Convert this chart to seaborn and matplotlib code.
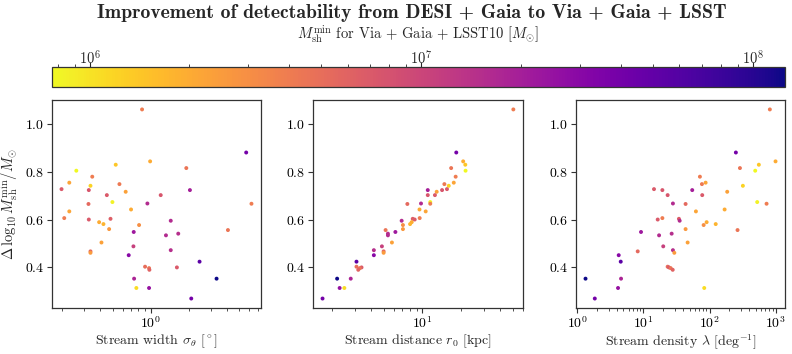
import numpy as np
import pandas as pd
import matplotlib
matplotlib.use("Agg")
import matplotlib.pyplot as plt
import seaborn as sns
from matplotlib.colors import LogNorm
from matplotlib.cm import ScalarMappable

# Stream properties (one entry per stream)
delta_logm = [1.06, 0.88, 0.843, 0.829, 0.804, 0.815, 0.779, 0.754, 0.748, 0.741,
              0.727, 0.723, 0.723, 0.716, 0.702, 0.702, 0.673, 0.667, 0.665, 0.666,
              0.634, 0.642, 0.606, 0.600, 0.603, 0.595, 0.589, 0.581, 0.577, 0.560,
              0.556, 0.548, 0.541, 0.534, 0.504, 0.488, 0.472, 0.467, 0.461, 0.451,
              0.424, 0.403, 0.400, 0.397, 0.390, 0.353, 0.353, 0.314, 0.314, 0.270]
width = [0.855, 5.67, 0.99, 0.53, 0.259, 1.91, 0.346, 0.228, 0.567, 0.335,
         0.198, 0.325, 2.04, 0.635, 0.451, 1.20, 0.499, 0.942, 0.323, 6.24,
         0.228, 0.70, 0.208, 0.325, 0.482, 1.44, 0.392, 0.424, 0.81, 0.47,
         4.07, 0.735, 1.65, 1.32, 0.409, 0.731, 1.44, 0.335, 0.335, 0.671,
         2.43, 0.903, 1.61, 0.971, 0.977, 3.31, 0.74, 0.771, 0.971, 2.09]
distance = [50.7, 18.3, 20.7, 21.5, 21.6, 16.7, 18.1, 17.5, 14.8, 16.0,
            15.5, 14.2, 11.0, 12.9, 12.5, 11.0, 11.5, 9.75, 7.64, 11.5,
            10.6, 9.49, 9.52, 8.71, 8.41, 6.90, 8.26, 8.02, 7.06, 7.06,
            5.18, 6.17, 5.40, 5.40, 5.80, 4.85, 4.20, 5.00, 5.00, 4.20,
            3.08, 3.08, 3.37, 3.27, 3.18, 2.18, 2.78, 2.48, 2.28, 1.68]
density = [815, 250, 993, 556, 490, 288, 71.6, 87.3, 76.8, 319,
           14.5, 19.4, 54.8, 185, 77.6, 23.3, 525, 28.0, 43.5, 727,
           62.3, 169, 19.4, 16.5, 34.5, 35.4, 90.4, 124, 81.5, 43.5,
           265, 9.23, 26.8, 17.3, 46.7, 20.0, 28.0, 8.23, 29.4, 4.25,
           4.56, 23.3, 24.4, 25.9, 27.8, 1.34, 4.61, 83.2, 4.15, 1.85]
m_min = [4.0e6, 4.0e7, 2.0e6, 1.4e6, 7.7e5, 4.5e6, 4.0e6, 2.2e6, 4.2e6, 1.2e6,
         7.0e6, 7.5e6, 2.0e7, 2.3e6, 7.0e6, 7.5e6, 8.5e5, 1.6e7, 5.5e6, 4.0e6,
         2.2e6, 2.0e6, 4.0e6, 7.0e6, 6.5e6, 1.6e7, 2.0e6, 1.8e6, 3.0e6, 2.6e6,
         4.5e6, 2.2e7, 1.5e7, 1.6e7, 2.3e6, 1.1e7, 1.5e7, 5.5e6, 2.5e6, 3.0e7,
         5.5e7, 5.0e6, 7.0e6, 4.5e6, 6.0e6, 1.25e8, 1.8e7, 1.1e6, 2.5e7, 4.0e7]

df = pd.DataFrame({"width": width, "distance": distance, "density": density,
                   "m_min": m_min, "delta": delta_logm})

sns.set_style("ticks")
plt.rcParams["font.family"] = "cmr10"
plt.rcParams["mathtext.fontset"] = "cm"
plt.rcParams["axes.formatter.use_mathtext"] = True
plt.rcParams["axes.edgecolor"] = "#333333"
plt.rcParams["axes.linewidth"] = 0.9

norm = LogNorm(vmin=df["m_min"].min(), vmax=df["m_min"].max())

fig = plt.figure(figsize=(7.92, 3.54), dpi=100)
axes = [fig.add_axes([0.0657, 0.130, 0.2638, 0.5876]),
        fig.add_axes([0.3952, 0.130, 0.2650, 0.5876]),
        fig.add_axes([0.7273, 0.130, 0.2639, 0.5876])]
cax = fig.add_axes([0.0657, 0.7542, 0.9255, 0.0565])

xcols = ["width", "distance", "density"]
xlabels = [r"Stream width $\sigma_\theta$ [$^\circ$]",
           r"Stream distance $r_0$ [kpc]",
           r"Stream density $\lambda$ [deg$^{-1}$]"]

for ax, col, lab in zip(axes, xcols, xlabels):
    sns.scatterplot(data=df, x=col, y="delta", hue="m_min", hue_norm=norm,
                    palette="plasma_r", s=8, linewidth=0, legend=False, ax=ax)
    ax.set_xscale("log")
    ax.set_xlabel(lab, fontsize=10, labelpad=1)
    ax.set_ylabel("")
    ax.set_yticks([0.4, 0.6, 0.8, 1.0])
    ax.tick_params(labelsize=10, colors="#333333", labelcolor="black", pad=2)
    ax.tick_params(which="minor", colors="#333333")

axes[0].set_ylabel(r"$\Delta\,\log_{10} M_{\rm sh}^{\rm min}/M_{\odot}$",
                   fontsize=10.5, labelpad=3)

sm = ScalarMappable(norm=norm, cmap="plasma_r")
cbar = fig.colorbar(sm, cax=cax, orientation="horizontal")
cax.xaxis.set_ticks_position("top")
cax.xaxis.set_label_position("top")
cbar.set_label(r"$M_{\rm sh}^{\rm min}$ for Via + Gaia + LSST10 [$M_{\odot}$]",
               fontsize=10.5, labelpad=8)
cax.tick_params(labelsize=10.5, pad=-4)
cbar.outline.set_edgecolor("#333333")

fig.suptitle("Improvement of detectability from DESI + Gaia to Via + Gaia + LSST",
             fontfamily="cmb10", fontsize=14.2, x=0.52, y=0.99)

fig.savefig("out.png", dpi=100)
